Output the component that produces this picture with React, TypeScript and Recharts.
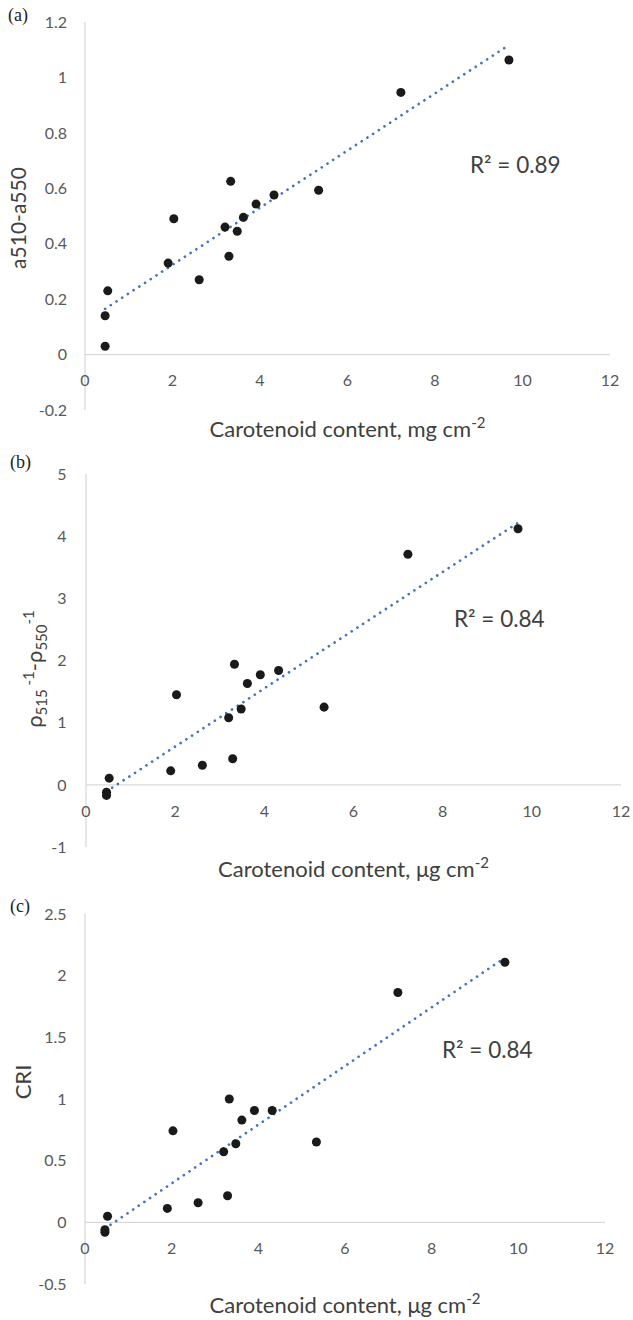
import React from 'react';
import { ScatterChart, Scatter, XAxis, YAxis, ReferenceLine, Customized } from 'recharts';

// carotenoid content per sample (shared x for all three panels)
const carotenoid = [0.46, 0.46, 0.52, 1.9, 2.03, 2.61, 3.2, 3.29, 3.33, 3.48, 3.62, 3.91, 4.32, 5.34, 7.22, 9.69];
// (a) a510-a550
const a510a550 = [0.03, 0.14, 0.23, 0.33, 0.49, 0.27, 0.46, 0.355, 0.625, 0.445, 0.495, 0.543, 0.576, 0.593, 0.946, 1.063];
// (b) rho515^-1 - rho550^-1
const rhoDiff = [-0.17, -0.12, 0.107, 0.225, 1.45, 0.316, 1.08, 0.42, 1.94, 1.22, 1.63, 1.77, 1.84, 1.25, 3.71, 4.12];
// (c) CRI
const cri = [-0.08, -0.06, 0.049, 0.113, 0.742, 0.159, 0.572, 0.216, 1.0, 0.637, 0.829, 0.907, 0.907, 0.651, 1.863, 2.109];

const xTicks = [0, 2, 4, 6, 8, 10, 12];
const yTicksA = [-0.2, 0, 0.2, 0.4, 0.6, 0.8, 1, 1.2];
const yTicksB = [-1, 0, 1, 2, 3, 4, 5];
const yTicksC = [-0.5, 0, 0.5, 1, 1.5, 2, 2.5];

const r2Labels = ['R² = 0.89', 'R² = 0.84', 'R² = 0.84'];

const FONT = 'Lato, "Open Sans", sans-serif';
const TICK_COLOR = '#595959';
const TITLE_COLOR = '#404040';
const TICK_SIZE = 16;
const TITLE_SIZE = 22;
const CHART_W = 633;
const CHART_H = 452; // panels are 440 apart; the extra 12px hold the title descenders
const BOTTOM_PAD = 12;

const linearFit = (xs: number[], ys: number[]) => {
  const n = xs.length;
  const mx = xs.reduce((s, v) => s + v, 0) / n;
  const my = ys.reduce((s, v) => s + v, 0) / n;
  let sxy = 0;
  let sxx = 0;
  xs.forEach((x, i) => {
    sxy += (x - mx) * (ys[i] - my);
    sxx += (x - mx) * (x - mx);
  });
  const slope = sxy / sxx;
  return { slope, intercept: my - slope * mx };
};

type PanelProps = {
  ys: number[];
  yTicks: number[];
  letter: string;
  r2: string;
  top: number;
  right: number;
  yAxisWidth: number;
  xAxisHeight: number;
  yTickGap: number;
  xTickDrop: number;
  letterPos: [number, number];
  r2Pos: [number, number];
  yTitle: React.ReactNode;
  yTitleSize: number;
  yTitlePos: [number, number];
  xTitle: React.ReactNode;
  xTitlePos: [number, number];
};

function Panel(p: PanelProps) {
  const data = carotenoid.map((x, i) => ({ x, y: p.ys[i] }));
  const yMin = p.yTicks[0];
  const yMax = p.yTicks[p.yTicks.length - 1];
  const plotH = CHART_H - p.top - BOTTOM_PAD - p.xAxisHeight;
  const zeroOff = (plotH * (0 - yMin)) / (yMax - yMin);
  const { slope, intercept } = linearFit(carotenoid, p.ys);
  const x0 = Math.min(...carotenoid);
  const x1 = Math.max(...carotenoid);

  // x tick labels sit just under the zero line, as in the original
  const renderXTick = (props: any) => (
    <text
      x={props.x}
      y={props.y - zeroOff + p.xTickDrop}
      textAnchor="middle"
      dominantBaseline="central"
      fill={TICK_COLOR}
      fontSize={TICK_SIZE}
      fontFamily={FONT}
    >
      {props.payload.value}
    </text>
  );

  return (
    <ScatterChart
      width={CHART_W}
      height={CHART_H}
      margin={{ top: p.top, right: p.right, bottom: BOTTOM_PAD, left: 0 }}
    >
      <XAxis
        type="number"
        dataKey="x"
        domain={[0, 12]}
        ticks={xTicks}
        interval={0}
        axisLine={false}
        tickLine={false}
        tickSize={0}
        tickMargin={0}
        height={p.xAxisHeight}
        tick={renderXTick}
      />
      <YAxis
        type="number"
        dataKey="y"
        domain={[yMin, yMax]}
        ticks={p.yTicks}
        interval={0}
        width={p.yAxisWidth}
        axisLine={{ stroke: '#d9d9d9', strokeWidth: 1.3 }}
        tickLine={false}
        tickSize={0}
        tickMargin={p.yTickGap}
        tick={{ fill: TICK_COLOR, fontSize: TICK_SIZE, fontFamily: FONT }}
      />
      <ReferenceLine y={0} stroke="#d9d9d9" strokeWidth={1.3} />
      <Scatter data={data} fill="#1a1a1a" shape="circle" isAnimationActive={false} />
      <ReferenceLine
        segment={[
          { x: x0, y: slope * x0 + intercept },
          { x: x1, y: slope * x1 + intercept },
        ]}
        stroke="#4472C4"
        strokeWidth={2.7}
        strokeDasharray="0.01 6.8"
        strokeLinecap="round"
        ifOverflow="visible"
      />
      <Customized
        component={() => (
          <g>
            <text x={p.letterPos[0]} y={p.letterPos[1]} fontSize={18} fill="#222" fontFamily='"Liberation Serif", serif'>
              {p.letter}
            </text>
            <text x={p.r2Pos[0]} y={p.r2Pos[1]} fontSize={22.5} fill={TITLE_COLOR} fontFamily={FONT}>
              {p.r2}
            </text>
            <text
              x={p.yTitlePos[0]}
              y={p.yTitlePos[1]}
              transform={`rotate(-90, ${p.yTitlePos[0]}, ${p.yTitlePos[1]})`}
              textAnchor="middle"
              fontSize={p.yTitleSize}
              fill={TITLE_COLOR}
              fontFamily={FONT}
            >
              {p.yTitle}
            </text>
            <text
              x={p.xTitlePos[0]}
              y={p.xTitlePos[1]}
              textAnchor="middle"
              fontSize={TITLE_SIZE}
              fill={TITLE_COLOR}
              fontFamily={FONT}
            >
              {p.xTitle}
            </text>
          </g>
        )}
      />
    </ScatterChart>
  );
}

const xTitleMg = (
  <>
    <tspan>Carotenoid content, mg cm</tspan>
    <tspan fontSize={15} dy={-9}>-2</tspan>
  </>
);
const xTitleUg = (
  <>
    <tspan>Carotenoid content, μg cm</tspan>
    <tspan fontSize={15} dy={-9}>-2</tspan>
  </>
);
const yTitleRho = (
  <>
    <tspan>ρ</tspan>
    <tspan fontSize={15} dy={5}>515</tspan>
    <tspan fontSize={15} dy={-13}> -1</tspan>
    <tspan dy={8}>-ρ</tspan>
    <tspan fontSize={15} dy={5}>550</tspan>
    <tspan fontSize={15} dy={-13}>-1</tspan>
  </>
);

export default function App() {
  return (
    <div style={{ position: 'absolute', top: 0, left: 0, width: 633, height: 1320, background: '#fff' }}>
      <div style={{ position: 'absolute', top: 0, left: 0 }}>
        <Panel
          ys={a510a550}
          yTicks={yTicksA}
          letter="(a)"
          r2={r2Labels[0]}
          top={22}
          right={23}
          yAxisWidth={85}
          xAxisHeight={30}
          yTickGap={18}
          xTickDrop={24.5}
          letterPos={[8, 21]}
          r2Pos={[470, 172.5]}
          yTitle="a510-a550"
          yTitleSize={21}
          yTitlePos={[26, 218]}
          xTitle={xTitleMg}
          xTitlePos={[347.5, 437]}
        />
      </div>
      <div style={{ position: 'absolute', top: 440, left: 0 }}>
        <Panel
          ys={rhoDiff}
          yTicks={yTicksB}
          letter="(b)"
          r2={r2Labels[1]}
          top={34}
          right={12}
          yAxisWidth={86}
          xAxisHeight={33}
          yTickGap={19.5}
          xTickDrop={25.5}
          letterPos={[10, 28]}
          r2Pos={[454, 187]}
          yTitle={yTitleRho}
          yTitleSize={22}
          yTitlePos={[42, 229]}
          xTitle={xTitleUg}
          xTitlePos={[353.5, 437]}
        />
      </div>
      <div style={{ position: 'absolute', top: 880, left: 0 }}>
        <Panel
          ys={cri}
          yTicks={yTicksC}
          letter="(c)"
          r2={r2Labels[2]}
          top={34}
          right={28}
          yAxisWidth={85}
          xAxisHeight={36}
          yTickGap={18.5}
          xTickDrop={24.7}
          letterPos={[10, 32]}
          r2Pos={[442, 178]}
          yTitle="CRI"
          yTitleSize={22}
          yTitlePos={[31, 202]}
          xTitle={xTitleUg}
          xTitlePos={[345, 433]}
        />
      </div>
    </div>
  );
}
